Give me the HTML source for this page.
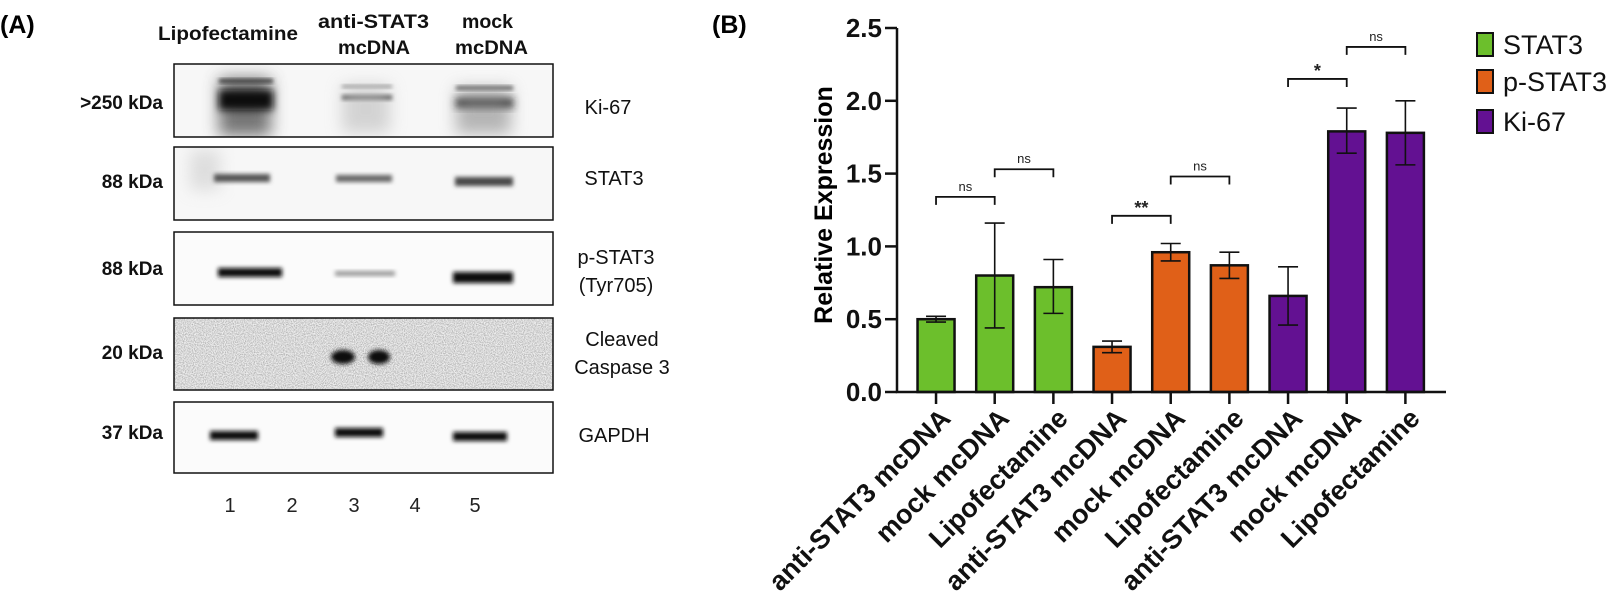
<!DOCTYPE html>
<html><head><meta charset="utf-8"><style>
html,body{margin:0;padding:0;background:#fff;}
svg{display:block;}
.b{font-family:"Liberation Sans",sans-serif;font-weight:bold;}
.r{font-family:"Liberation Sans",sans-serif;}
</style></head><body>
<svg id="fig" width="1606" height="610" viewBox="0 0 1606 610" xmlns="http://www.w3.org/2000/svg">
<defs>
<filter id="bl2" x="-50%" y="-50%" width="200%" height="200%"><feGaussianBlur stdDeviation="2"/></filter>
<filter id="bl4" x="-50%" y="-50%" width="200%" height="200%"><feGaussianBlur stdDeviation="4"/></filter>
<filter id="bl8" x="-50%" y="-50%" width="200%" height="200%"><feGaussianBlur stdDeviation="8"/></filter>
<filter id="noise" x="0" y="0" width="100%" height="100%">
<feTurbulence type="fractalNoise" baseFrequency="0.9" numOctaves="2" seed="3"/>
<feColorMatrix type="matrix" values="0 0 0 0 0.3  0 0 0 0 0.3  0 0 0 0 0.3  0 0 0 -1.6 1.05"/>
</filter>
<clipPath id="cKi"><rect x="174" y="64" width="379" height="73"/></clipPath>
<clipPath id="cSt"><rect x="174" y="147" width="379" height="73"/></clipPath>
</defs>

<g>
<text class="b" x="0" y="33" font-size="25">(A)</text>
<g class="b" font-size="19" fill="#111">
<text x="158" y="40" textLength="140" lengthAdjust="spacingAndGlyphs">Lipofectamine</text>
<text x="318" y="28" textLength="111" lengthAdjust="spacingAndGlyphs">anti-STAT3</text>
<text x="338" y="54" textLength="72" lengthAdjust="spacingAndGlyphs">mcDNA</text>
<text x="462" y="28" textLength="51" lengthAdjust="spacingAndGlyphs">mock</text>
<text x="455" y="54" textLength="73" lengthAdjust="spacingAndGlyphs">mcDNA</text>
</g>
<g class="b" font-size="19" text-anchor="end" fill="#111">
<text x="163" y="109">&gt;250 kDa</text>
<text x="163" y="188">88 kDa</text>
<text x="163" y="275">88 kDa</text>
<text x="163" y="359">20 kDa</text>
<text x="163" y="439">37 kDa</text>
</g>
<g class="r" font-size="20" fill="#111" text-anchor="middle">
<text x="608" y="114">Ki-67</text>
<text x="614" y="185">STAT3</text>
<text x="616" y="264">p-STAT3</text>
<text x="616" y="292">(Tyr705)</text>
<text x="622" y="346">Cleaved</text>
<text x="622" y="374">Caspase 3</text>
<text x="614" y="442">GAPDH</text>
</g>
<g>
<rect x="174" y="64" width="379" height="73" fill="#f7f7f7"/>
<g clip-path="url(#cKi)">
<rect x="219" y="78" width="52" height="58" fill="#555" filter="url(#bl8)" opacity="0.8"/>
<rect x="219" y="79" width="54" height="4" fill="#333" filter="url(#bl2)"/>
<rect x="219" y="90" width="54" height="20" fill="#111" filter="url(#bl4)"/>
<rect x="342" y="85" width="50" height="3" fill="#888" filter="url(#bl2)"/>
<rect x="342" y="95" width="50" height="5" fill="#444" filter="url(#bl2)"/>
<rect x="342" y="85" width="48" height="48" fill="#bbb" filter="url(#bl8)" opacity="0.6"/>
<rect x="456" y="86" width="57" height="4" fill="#555" filter="url(#bl2)"/>
<rect x="456" y="98" width="57" height="10" fill="#222" filter="url(#bl4)"/>
<rect x="456" y="88" width="55" height="46" fill="#888" filter="url(#bl8)" opacity="0.6"/>
</g>
<rect x="174" y="64" width="379" height="73" fill="none" stroke="#111" stroke-width="1.5"/>
</g>
<g>
<rect x="174" y="147" width="379" height="73" fill="#f7f7f7"/>
<g clip-path="url(#cSt)">
<rect x="190" y="150" width="30" height="40" fill="#ccc" filter="url(#bl8)" opacity="0.6"/>
<rect x="214" y="174" width="56" height="8" fill="#555" filter="url(#bl2)"/>
<rect x="336" y="175" width="56" height="7" fill="#666" filter="url(#bl2)"/>
<rect x="455" y="177" width="58" height="9" fill="#4a4a4a" filter="url(#bl2)"/>
</g>
<rect x="174" y="147" width="379" height="73" fill="none" stroke="#111" stroke-width="1.5"/>
</g>
<g>
<rect x="174" y="232" width="379" height="73" fill="#fbfbfb"/>
<rect x="218" y="268" width="64" height="9" fill="#0d0d0d" filter="url(#bl2)"/>
<rect x="335" y="271" width="60" height="5" fill="#999" filter="url(#bl2)"/>
<rect x="453" y="272" width="60" height="11" fill="#0a0a0a" filter="url(#bl2)"/>
<rect x="174" y="232" width="379" height="73" fill="none" stroke="#111" stroke-width="1.5"/>
</g>
<g>
<rect x="174" y="318" width="379" height="72" fill="#eee"/>
<rect x="174" y="318" width="379" height="72" filter="url(#noise)"/>
<ellipse cx="343" cy="357" rx="12" ry="7" fill="#111" filter="url(#bl2)"/>
<ellipse cx="379" cy="357" rx="11" ry="7" fill="#111" filter="url(#bl2)"/>
<rect x="174" y="318" width="379" height="72" fill="none" stroke="#111" stroke-width="1.5"/>
</g>
<g>
<rect x="174" y="402" width="379" height="71" fill="#fbfbfb"/>
<rect x="210" y="431" width="48" height="9" fill="#0a0a0a" filter="url(#bl2)"/>
<rect x="335" y="428" width="48" height="9" fill="#0a0a0a" filter="url(#bl2)"/>
<rect x="453" y="432" width="54" height="9" fill="#0a0a0a" filter="url(#bl2)"/>
<rect x="174" y="402" width="379" height="71" fill="none" stroke="#111" stroke-width="1.5"/>
</g>
<g class="r" font-size="20" fill="#222" text-anchor="middle">
<text x="230" y="512">1</text>
<text x="292" y="512">2</text>
<text x="354" y="512">3</text>
<text x="415" y="512">4</text>
<text x="475" y="512">5</text>
</g>
</g>

<g id="chartB">
<text class="b" x="712" y="33" font-size="25">(B)</text>
<text class="b" font-size="25" text-anchor="middle" transform="translate(832,205) rotate(-90)">Relative Expression</text>
</g>
</svg>
<script>
const categories = ["anti-STAT3 mcDNA","mock mcDNA","Lipofectamine","anti-STAT3 mcDNA","mock mcDNA","Lipofectamine","anti-STAT3 mcDNA","mock mcDNA","Lipofectamine"];
const seriesNames = ["STAT3","p-STAT3","Ki-67"];
const seriesColors = ["#6cbf2c","#e06018","#631192"];
const barSeries = [0,0,0,1,1,1,2,2,2];
const values = [0.50,0.80,0.72,0.31,0.96,0.87,0.66,1.79,1.78];
const errLow = [0.48,0.44,0.54,0.27,0.90,0.78,0.46,1.64,1.56];
const errHigh = [0.52,1.16,0.91,0.35,1.02,0.96,0.86,1.95,2.00];
const yTicks = [0,0.5,1.0,1.5,2.0,2.5];
const yTickLabels = ["0.0","0.5","1.0","1.5","2.0","2.5"];
const bracketFrom = [0,1,3,4,6,7];
const bracketTo = [1,2,4,5,7,8];
const bracketLevel = [1.34,1.53,1.21,1.48,2.15,2.37];
const bracketLabel = ["ns","ns","**","ns","*","ns"];

const NS="http://www.w3.org/2000/svg";
const g=document.getElementById('chartB');
const plotL=897, plotR=1446, y0=392, yTop=28, yMax=2.5;
const step=58.67, barW=37;
function yS(v){return y0-(v/yMax)*(y0-yTop);}
function xS(i){return plotL+9.7+(i+0.5)*step;}
function mk(tag,attrs){const e=document.createElementNS(NS,tag);for(const k in attrs)e.setAttribute(k,attrs[k]);g.appendChild(e);return e;}

values.forEach((v,i)=>{
  const r=mk('rect',{x:xS(i)-barW/2,y:yS(v),width:barW,height:y0-yS(v),fill:seriesColors[barSeries[i]],stroke:'#111','stroke-width':2.5});
  
  
  const cx=xS(i);
  const e=mk('path',{d:`M${cx},${yS(errLow[i])}V${yS(errHigh[i])}M${cx-10},${yS(errLow[i])}H${cx+10}M${cx-10},${yS(errHigh[i])}H${cx+10}`,stroke:'#111','stroke-width':1.6,fill:'none'});
  
  
});
const ax=mk('path',{d:`M${plotL},${yTop}V${y0}H${plotR}`,stroke:'#111','stroke-width':2.5,fill:'none'});


yTicks.forEach((t,i)=>{
  const tk=mk('line',{x1:plotL-12,x2:plotL,y1:yS(t),y2:yS(t),stroke:'#111','stroke-width':2.5});
  
  
  const tx=mk('text',{x:plotL-15,y:yS(t)+9,'text-anchor':'end','font-size':26,'font-family':'Liberation Sans, sans-serif','font-weight':'bold',fill:'#111'});
  tx.textContent=yTickLabels[i];
  
  
});
categories.forEach((c,i)=>{
  const cx=xS(i);
  const tk=mk('line',{x1:cx,x2:cx,y1:y0,y2:y0+12,stroke:'#111','stroke-width':2.5});
  
  
  const tx=mk('text',{x:0,y:0,'text-anchor':'end','font-size':27,'font-family':'Liberation Sans, sans-serif','font-weight':'bold',fill:'#111',transform:`translate(${cx+16},${y0+28}) rotate(-45)`});
  tx.textContent=c;
  
  
});
bracketLabel.forEach((lab,i)=>{
  const xa=xS(bracketFrom[i]), xb=xS(bracketTo[i]), y=yS(bracketLevel[i]);
  const p=mk('path',{d:`M${xa},${y+8}V${y}H${xb}V${y+8}`,stroke:'#111','stroke-width':1.8,fill:'none'});
  
  
  const big=lab.indexOf('*')>=0;
  const t=mk('text',{x:(xa+xb)/2,y:big?y-2:y-6,'text-anchor':'middle','font-size':big?18:13,'font-family':'Liberation Sans, sans-serif','font-weight':big?'bold':'normal',fill:'#222'});
  t.textContent=lab;
  
  
});
const legY=[33,70,110];
seriesNames.forEach((s,i)=>{
  const r=mk('rect',{x:1477,y:legY[i],width:16,height:23,fill:seriesColors[i],stroke:'#111','stroke-width':2});
  
  
  const t=mk('text',{x:1503,y:legY[i]+21,'font-size':27,'font-family':'Liberation Sans, sans-serif',fill:'#111'});
  t.textContent=s;
  
  
});
</script>
</body></html>
